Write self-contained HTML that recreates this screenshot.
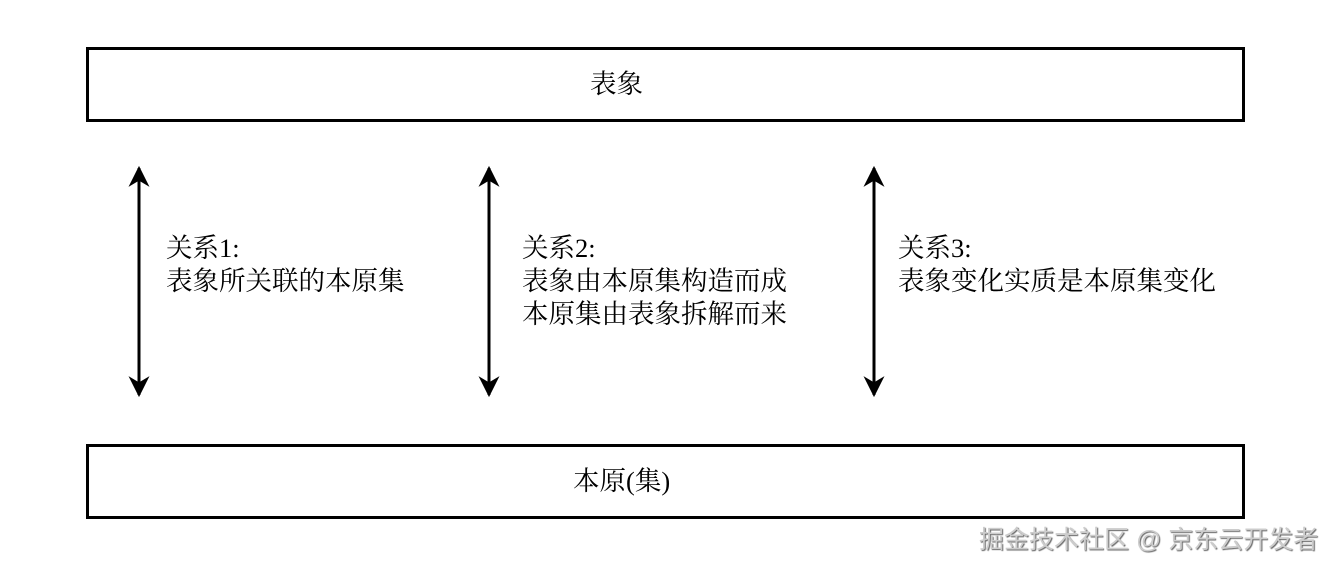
<!DOCTYPE html>
<html><head><meta charset="utf-8"><style>
body{margin:0;width:1334px;height:568px;background:#fff;position:relative;overflow:hidden;font-family:"Liberation Serif","Noto Serif CJK SC",serif;color:#000}
.box{position:absolute;left:86px;width:1153px;border:3px solid #000;box-sizing:content-box}
.t{position:absolute;font-size:26.5px;line-height:33px;white-space:nowrap}
.wm{position:absolute;left:979px;top:520px;font-family:"Liberation Sans","Noto Sans CJK SC",sans-serif;font-size:25px;color:#ccc;text-shadow:1px 1px 1px #666;white-space:nowrap}
</style></head><body>
<div class="box" style="top:47px;height:69px"></div>
<div class="box" style="top:444px;height:69px"></div>
<div class="t" style="left:590px;top:68px">表象</div>
<div class="t" style="left:573px;top:465px">本原(集)</div>
<svg width="1334" height="568" style="position:absolute;left:0;top:0">
<defs><marker id="a" viewBox="0 0 10 10" refX="9" refY="5" markerWidth="7" markerHeight="7" orient="auto-start-reverse"><path d="M0,0L10,5L0,10L3,5z" fill="#000"/></marker></defs>
<g stroke="#000" stroke-width="3" marker-start="url(#a)" marker-end="url(#a)">
<line x1="139" y1="168" x2="139" y2="395"/>
<line x1="489" y1="168" x2="489" y2="395"/>
<line x1="874" y1="168" x2="874" y2="395"/>
</g></svg>
<div class="t" style="left:166px;top:232px">关系1:<br>表象所关联的本原集</div>
<div class="t" style="left:522px;top:232px">关系2:<br>表象由本原集构造而成<br>本原集由表象拆解而来</div>
<div class="t" style="left:898px;top:232px">关系3:<br>表象变化实质是本原集变化</div>
<div class="wm">掘金技术社区 @ 京东云开发者</div>
</body></html>
